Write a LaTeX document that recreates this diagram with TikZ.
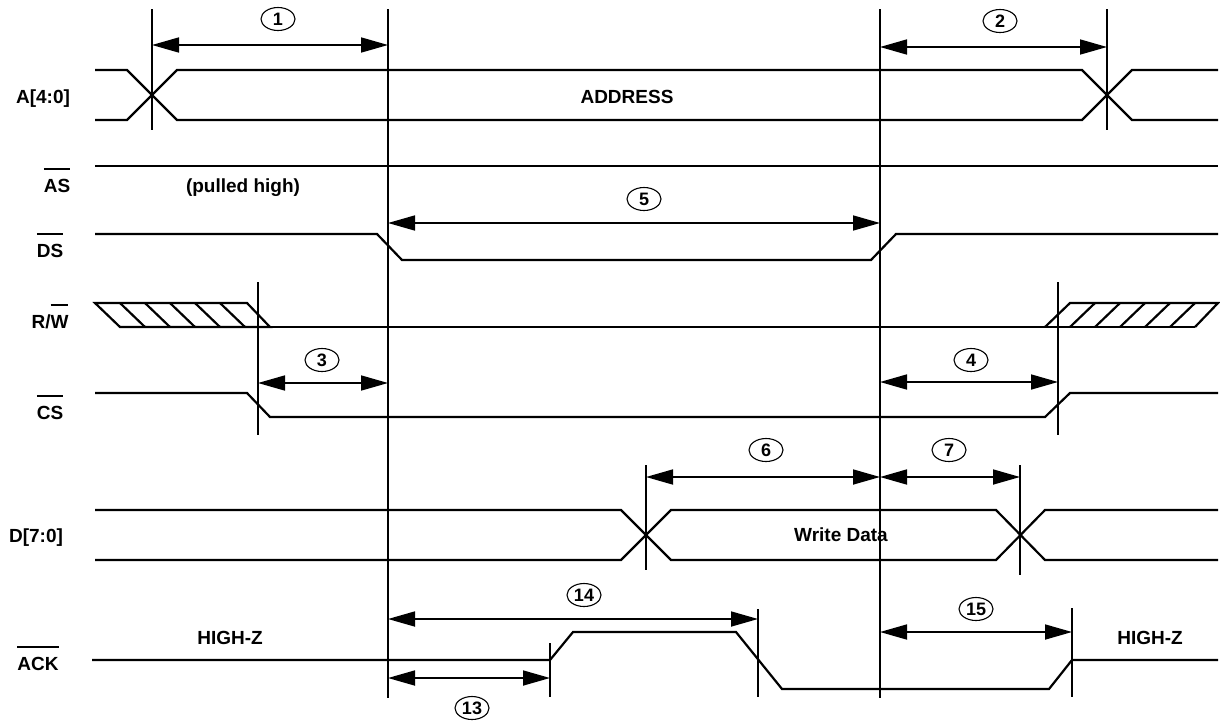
\documentclass[tikz,border=0pt]{standalone}
\usepackage{fontspec}
\setmainfont{Liberation Sans}
\usetikzlibrary{positioning, arrows.meta, shapes.geometric}

\newcommand{\ovl}[1]{\setbox0\hbox{#1}\vbox{\hrule height 2pt width\wd0\vskip 9pt\box0}}

\begin{document}
\begin{tikzpicture}[x=1pt, y=-1pt,
  font=\fontsize{19}{21}\selectfont\bfseries,
  wave/.style={line width=2.2pt},
  vline/.style={line width=1.1pt},
  dim/.style={line width=1.7pt, {Triangle[length=27pt,width=15pt]}-{Triangle[length=27pt,width=15pt]}},
  num/.style={draw, ellipse, line width=1.1pt, minimum width=34pt, minimum height=23pt, inner sep=0pt,
    font=\fontsize{18}{20}\selectfont\bfseries},
  lbl/.style={anchor=base}]
\useasboundingbox (0,0) rectangle (1220,724);

\node[lbl] (A) at (43,103) {A[4:0]};
\node[lbl] (AS) at (57,192) {\ovl{AS}};
\node[lbl] (DS) at (50,257) {\ovl{DS}};
\node[lbl] (RW) at (50,328) {R/\ovl{W}};
\node[lbl] (CS) at (50,419) {\ovl{CS}};
\node[lbl] (D) at (36,542) {D[7:0]};
\node[lbl] (ACK) at (38,670) {\ovl{ACK}};

\node[lbl] (addr) at (627,103) {ADDRESS};
\node[lbl] (pull) at (243,192) {(pulled high)};
\node[lbl] (wdata) at (841,541) {Write Data};
\node[lbl] (hz1) at (230,644) {HIGH-Z};
\node[lbl] (hz2) at (1150,644) {HIGH-Z};

\node[num] (n1) at (278,19) {1};
\node[num] (n2) at (1000,21) {2};
\node[num] (n5) at (644,199) {5};
\node[num] (n3) at (322,360) {3};
\node[num] (n4) at (971,360) {4};
\node[num] (n6) at (766,450) {6};
\node[num] (n7) at (949,450) {7};
\node[num] (n14) at (584,595) {14};
\node[num] (n13) at (472,708) {13};
\node[num] (n15) at (976,609) {15};

\draw[vline] (152,9) -- (152,130);
\draw[vline] (388,9) -- (388,698);
\draw[vline] (880,9) -- (880,698);
\draw[vline] (1107,9) -- (1107,130);
\draw[vline] (258,282) -- (258,435);
\draw[vline] (1058,282) -- (1058,435);
\draw[vline] (646,465) -- (646,570);
\draw[vline] (1020,465) -- (1020,575);
\draw[vline] (550,643) -- (550,697);
\draw[vline] (758,609) -- (758,697);
\draw[vline] (1072,608) -- (1072,697);

\draw[wave] (95,70) -- (127,70) -- (177,120) -- (1082,120) -- (1132,70) -- (1218,70);
\draw[wave] (95,120) -- (127,120) -- (177,70) -- (1082,70) -- (1132,120) -- (1218,120);
\draw[wave] (95,166) -- (1218,166);
\draw[wave] (95,234) -- (377,234) -- (402,260) -- (871,260) -- (896,234) -- (1218,234);
\draw[wave] (95,303) -- (247,303) -- (270,327) -- (120,327) -- cycle;
\draw[wave] (120,303) -- (145,327) (145,303) -- (170,327) (170,303) -- (195,327)
  (195,303) -- (220,327) (220,303) -- (245,327);
\draw[wave] (120,327) -- (1195,327);
\draw[wave] (1045,327) -- (1070,303) -- (1218,303) -- (1195,327);
\draw[wave] (1070,327) -- (1095,303) (1095,327) -- (1120,303) (1120,327) -- (1145,303)
  (1145,327) -- (1170,303) (1170,327) -- (1195,303);
\draw[wave] (95,393) -- (247,393) -- (270,417) -- (1045,417) -- (1070,393) -- (1218,393);
\draw[wave] (95,510) -- (621,510) -- (671,560) -- (996,560) -- (1045,510) -- (1218,510);
\draw[wave] (95,560) -- (621,560) -- (671,510) -- (996,510) -- (1045,560) -- (1218,560);
\draw[wave] (92,660) -- (550,660) -- (573,632) -- (736,632) -- (782,689) -- (1049,689) -- (1072,660) -- (1218,660);

\coordinate (a1l) at (152,45);
\coordinate (a1r) at (388,45);
\coordinate (a2l) at (880,47);
\coordinate (a2r) at (1107,47);
\coordinate (a5l) at (388,223);
\coordinate (a5r) at (880,223);
\coordinate (a3l) at (258,383);
\coordinate (a3r) at (388,383);
\coordinate (a4l) at (880,382);
\coordinate (a4r) at (1058,382);
\coordinate (a6l) at (646,477);
\coordinate (a6r) at (880,477);
\coordinate (a7r) at (1020,477);
\coordinate (a14l) at (388,619);
\coordinate (a14r) at (758,619);
\coordinate (a13l) at (388,678);
\coordinate (a13r) at (550,678);
\coordinate (a15l) at (880,632);
\coordinate (a15r) at (1072,632);

\draw[dim] (a1l) -- (a1r);
\draw[dim] (a2l) -- (a2r);
\draw[dim] (a5l) -- (a5r);
\draw[dim] (a3l) -- (a3r);
\draw[dim] (a4l) -- (a4r);
\draw[dim] (a6l) -- (a6r);
\draw[dim] (a6r) -- (a7r);
\draw[dim] (a14l) -- (a14r);
\draw[dim] (a13l) -- (a13r);
\draw[dim] (a15l) -- (a15r);
\end{tikzpicture}
\end{document}
